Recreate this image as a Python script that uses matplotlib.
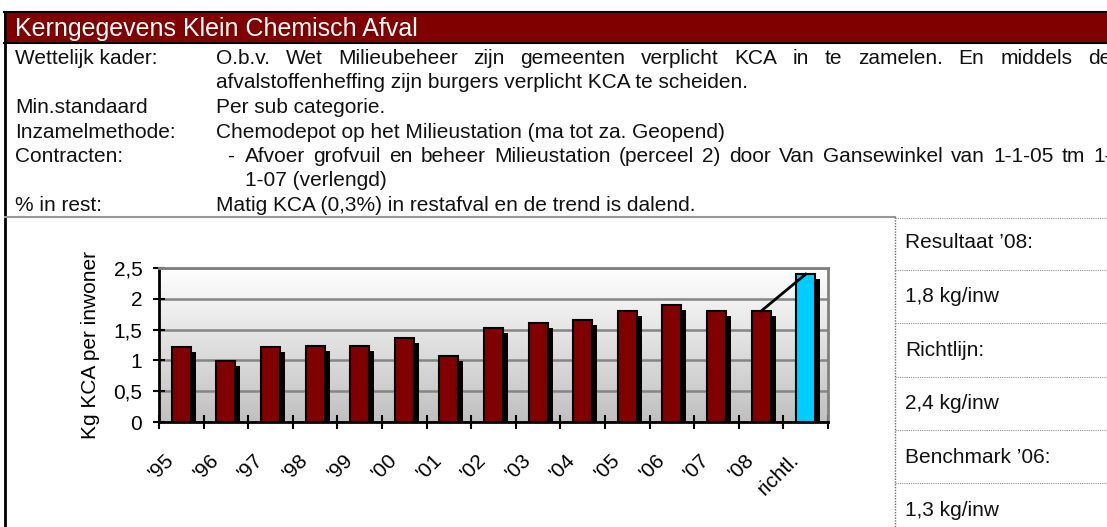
import matplotlib
matplotlib.use("Agg")
import matplotlib.pyplot as plt
import numpy as np
from matplotlib.colors import LinearSegmentedColormap
from matplotlib.ticker import FuncFormatter, FixedLocator
from matplotlib.transforms import ScaledTranslation

plt.rcParams['font.family'] = ['Liberation Sans', 'DejaVu Sans']

# data
jaren = ["'95", "'96", "'97", "'98", "'99", "'00", "'01", "'02",
         "'03", "'04", "'05", "'06", "'07", "'08", "richtl."]
kca = [1.22, 0.99, 1.22, 1.24, 1.24, 1.37, 1.07, 1.52,
       1.60, 1.65, 1.80, 1.90, 1.80, 1.80, 2.40]
trend_jaren = ["'08", "richtl."]
trend_kca = [1.80, 2.40]

titel = "Kerngegevens Klein Chemisch Afval"
rij_labels = ["Wettelijk kader:", "", "Min.standaard", "Inzamelmethode:",
              "Contracten:", "", "% in rest:"]
rij_teksten = [
    "O.b.v. Wet Milieubeheer zijn gemeenten verplicht KCA in te zamelen. En middels de",
    "afvalstoffenheffing zijn burgers verplicht KCA te scheiden.",
    "Per sub categorie.",
    "Chemodepot op het Milieustation (ma tot za. Geopend)",
    "Afvoer grofvuil en beheer Milieustation (perceel 2) door Van Gansewinkel van 1-1-05 tm 1-",
    "1-07 (verlengd)",
    "Matig KCA (0,3%) in restafval en de trend is dalend.",
]
paneel = ["Resultaat \u201908:", "1,8 kg/inw", "Richtlijn:", "2,4 kg/inw",
          "Benchmark \u201906:", "1,3 kg/inw"]

W, H = 1107, 527
fig = plt.figure(figsize=(W / 100, H / 100), dpi=100)
fig.patch.set_facecolor('white')

# background axes in pixel units for the document part
bg = fig.add_axes([0, 0, 1, 1])
bg.set_xlim(0, W)
bg.set_ylim(H, 0)
bg.axis('off')

# header band
bg.add_patch(plt.Rectangle((4, 12), W, 30, facecolor='#800000', edgecolor='none'))
bg.plot([4, W], [12, 12], color='black', lw=1.5)
bg.plot([4, W], [42.5, 42.5], color='black', lw=1.5)
bg.plot([5, 5], [12, H], color='black', lw=2)
bg.text(15, 36, titel, color='white', fontsize=18, va='baseline')

renderer = fig.canvas.get_renderer()


def uitvullen(woorden, x0, x1, y, **kw):
    # justified line: spread words between x0 and x1
    teksten = [bg.text(0, y, w, va='baseline', **kw) for w in woorden]
    breedtes = [t.get_window_extent(renderer).width for t in teksten]
    gat = (x1 - x0 - sum(breedtes)) / (len(woorden) - 1)
    x = x0
    for t, b in zip(teksten, breedtes):
        t.set_x(x)
        x += b + gat


fs = 15
basis = [64 + 24.5 * i for i in range(len(rij_labels))]
for lab, tekst, y in zip(rij_labels, rij_teksten, basis):
    if lab:
        bg.text(15, y, lab, fontsize=fs, va='baseline', color='#111111')
bg.text(216, basis[1], rij_teksten[1], fontsize=fs, va='baseline', color='#111111')
bg.text(216, basis[2], rij_teksten[2], fontsize=fs, va='baseline', color='#111111')
bg.text(216, basis[3], rij_teksten[3], fontsize=fs, va='baseline', color='#111111')
bg.text(227, basis[4], "-", fontsize=fs, va='baseline', color='#111111')
bg.text(245, basis[5], rij_teksten[5], fontsize=fs, va='baseline', color='#111111')
bg.text(216, basis[6], rij_teksten[6], fontsize=fs, va='baseline', color='#111111')
uitvullen(rij_teksten[0].split(), 216, 1111, basis[0], fontsize=fs, color='#111111')
uitvullen(rij_teksten[4].split(), 245, 1112, basis[4], fontsize=fs, color='#111111')

# separator and right panel
bg.plot([5, 895], [217, 217], color='#999999', lw=1.5)
bg.plot([895, 895], [217, H], color='#707070', lw=1, ls=(0, (1, 1)))
for yl in [217.5, 270, 323, 377, 430, 483]:
    bg.plot([895, W], [yl, yl], color='#909090', lw=0.8, ls=(0, (1, 1)))
for i, t in enumerate(paneel):
    bg.text(905, 243 + 53.6 * i, t, fontsize=fs, va='center', color='#111111')

# chart
x0, x1, ytop, ybot = 159, 828, 268, 422
ax = fig.add_axes([x0 / W, (H - ybot) / H, (x1 - x0) / W, (ybot - ytop) / H])
n = len(jaren)
x = np.arange(n)

verloop = LinearSegmentedColormap.from_list('verloop', ['#c0c0c0', '#ffffff'])
ax.imshow(np.linspace(0, 1, 256).reshape(-1, 1), cmap=verloop, origin='lower',
          extent=[-0.5, n - 0.5, 0, 2.5], aspect='auto', zorder=0)

kleuren = ['#800000'] * (n - 1) + ['#00ccff']
ax.bar(x + 0.11, np.array(kca) - 0.08, width=0.43, color='black', zorder=2)
ax.bar(x, kca, width=0.43, color=kleuren, edgecolor='black', linewidth=1.5, zorder=3)
ax.plot([jaren.index(j) for j in trend_jaren], trend_kca, color='black', lw=2, zorder=4)

ax.set_xlim(-0.5, n - 0.5)
ax.set_ylim(0, 2.5)
ax.set_yticks(np.arange(0, 2.51, 0.5))
ax.yaxis.set_major_formatter(FuncFormatter(lambda v, p: f"{v:g}".replace('.', ',')))
ax.yaxis.grid(True, color='#858585', lw=1.8)
ax.set_axisbelow(True)
ax.tick_params(axis='y', direction='inout', length=8, width=1.5, pad=8, labelsize=fs)

ax.set_xticks(x)
ax.set_xticklabels(jaren, rotation=45, ha='right', va='center', rotation_mode='anchor')
ax.xaxis.set_minor_locator(FixedLocator(np.arange(-0.5, n, 1)))
ax.tick_params(axis='x', which='major', length=0, pad=25, labelsize=fs)
ax.tick_params(axis='x', which='minor', direction='inout', length=10, width=1.5)
verschuif = ScaledTranslation(-10 / 100, 0, fig.dpi_scale_trans)
for lab in ax.get_xticklabels():
    lab.set_transform(lab.get_transform() + verschuif)

for s in ['left', 'bottom']:
    ax.spines[s].set_color('black')
    ax.spines[s].set_linewidth(2)
for s in ['top', 'right']:
    ax.spines[s].set_color('#808080')
    ax.spines[s].set_linewidth(2)

ax.set_ylabel("Kg KCA per inwoner", fontsize=fs, va='center')
ax.yaxis.set_label_coords((91 - x0) / (x1 - x0), 0.5)

fig.savefig('out.png', dpi=100)
